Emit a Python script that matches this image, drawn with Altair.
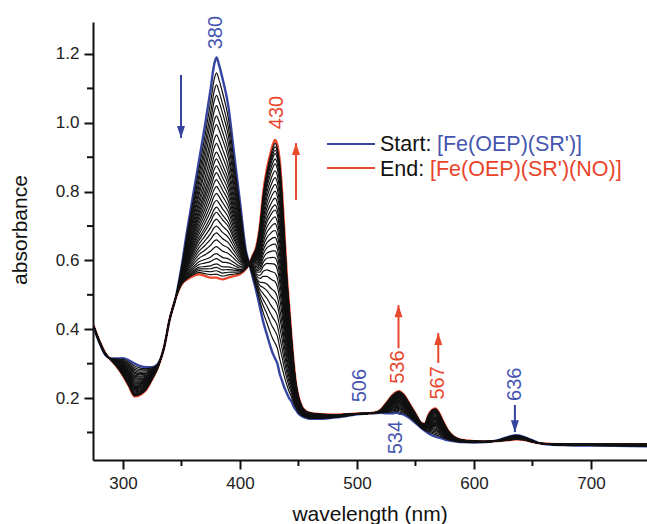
import altair as alt
import pandas as pd

# ---------------- data ----------------
wl = [275, 280, 285, 290, 295, 300, 305, 310, 315, 320,
      325, 330, 335, 340, 345, 350, 355, 360, 365, 370,
      375, 378, 380, 382, 385, 390, 395, 400, 405, 408,
      411, 414, 417, 420, 423, 426, 428, 430, 432, 434,
      436, 438, 440, 442, 444, 446, 448, 450, 453, 456,
      460, 470, 480, 490, 500, 510, 515, 520, 525, 530,
      534, 536, 540, 545, 550, 555, 558, 561, 564, 567,
      570, 574, 578, 582, 586, 590, 600, 610, 620, 630,
      636, 642, 648, 655, 665, 680, 700, 720, 750]

# Start: [Fe(OEP)(SR')]  (blue)
start_abs = [0.405, 0.36, 0.325, 0.315, 0.315, 0.316, 0.31, 0.30, 0.293, 0.29,
             0.29, 0.30, 0.345, 0.43, 0.49, 0.58, 0.69, 0.79, 0.89, 0.99,
             1.10, 1.17, 1.19, 1.17, 1.13, 1.05, 0.91, 0.77, 0.63, 0.59,
             0.55, 0.51, 0.465, 0.42, 0.385, 0.35, 0.33, 0.315, 0.30, 0.27,
             0.25, 0.23, 0.215, 0.20, 0.19, 0.175, 0.165, 0.155, 0.147, 0.143,
             0.14, 0.14, 0.143, 0.147, 0.153, 0.155, 0.156, 0.157, 0.156, 0.156,
             0.157, 0.155, 0.152, 0.142, 0.128, 0.113, 0.105, 0.098, 0.092, 0.088,
             0.085, 0.081, 0.077, 0.075, 0.073, 0.072, 0.071, 0.072, 0.077, 0.088,
             0.092, 0.088, 0.08, 0.07, 0.065, 0.063, 0.062, 0.061, 0.06]

# End: [Fe(OEP)(SR')(NO)]  (red)
end_abs = [0.41, 0.365, 0.33, 0.31, 0.29, 0.265, 0.235, 0.205, 0.21, 0.225,
           0.255, 0.29, 0.345, 0.43, 0.49, 0.53, 0.545, 0.555, 0.56, 0.555,
           0.55, 0.55, 0.55, 0.548, 0.545, 0.55, 0.555, 0.56, 0.575, 0.59,
           0.615, 0.64, 0.70, 0.80, 0.865, 0.91, 0.935, 0.95, 0.935, 0.89,
           0.80, 0.68, 0.56, 0.47, 0.38, 0.30, 0.24, 0.205, 0.175, 0.163,
           0.157, 0.153, 0.152, 0.153, 0.155, 0.156, 0.158, 0.165, 0.185, 0.207,
           0.218, 0.22, 0.21, 0.183, 0.155, 0.128, 0.125, 0.15, 0.165, 0.17,
           0.158, 0.13, 0.105, 0.09, 0.082, 0.078, 0.075, 0.074, 0.075, 0.078,
           0.08, 0.079, 0.074, 0.069, 0.067, 0.066, 0.066, 0.066, 0.066]

# absorbance at 380 nm of each intermediate (black) spectrum
mid_380 = [1.145, 1.11, 1.08, 1.05, 1.02, 0.995, 0.965, 0.94, 0.915, 0.895,
           0.875, 0.855, 0.835, 0.815, 0.795, 0.775, 0.755, 0.74, 0.72, 0.70,
           0.68, 0.66, 0.64, 0.62, 0.605, 0.59, 0.58, 0.57, 0.56]

x_major = [300, 400, 500, 600, 700]
x_minor = [350, 450, 550, 650]
y_major = [0.2, 0.4, 0.6, 0.8, 1.0, 1.2]
y_minor = [0.1, 0.3, 0.5, 0.7, 0.9, 1.1]

ann_text = ["380", "430", "506", "536", "567", "636", "534"]
ann_x = [379.5, 432.0, 502.5, 535.5, 569.0, 635.0, 533.3]
ann_y = [1.262, 1.03, 0.236, 0.29, 0.244, 0.24, 0.085]
ann_col = ["blue", "red", "blue", "red", "red", "blue", "blue"]

arrow_x = [349.6, 447.9, 535.5, 569.5, 635.0]
arrow_from = [1.139, 0.776, 0.345, 0.302, 0.18]
arrow_to = [0.956, 0.941, 0.47, 0.389, 0.101]
arrow_dir = ["down", "up", "up", "up", "down"]
arrow_col = ["blue", "red", "red", "red", "blue"]

BLUE_LINE = "#34449f"
RED_LINE = "#e8482c"
BLUE_TXT = "#4555b0"
RED_TXT = "#e8452b"
FONT = "Liberation Sans"

# ---------------- tables ----------------
i380 = wl.index(380)
ends_rows = []
for w, s in zip(wl, start_abs):
    ends_rows.append({"wl": w, "A": s, "series": "start"})
for w, e in zip(wl, end_abs):
    ends_rows.append({"wl": w, "A": e, "series": "end"})
ends_df = pd.DataFrame(ends_rows)

mid_rows = []
for k, v in enumerate(mid_380):
    f = (start_abs[i380] - v) / (start_abs[i380] - end_abs[i380])
    for w, s, e in zip(wl, start_abs, end_abs):
        mid_rows.append({"curve": k, "wl": w, "A": (1 - f) * s + f * e})
mid_df = pd.DataFrame(mid_rows)

cmap = {"blue": BLUE_TXT, "red": RED_TXT}
ann_df = pd.DataFrame({"t": ann_text, "x": ann_x, "y": ann_y,
                       "c": [cmap[c] for c in ann_col]})
amap = {"blue": BLUE_LINE, "red": RED_LINE}
arr_df = pd.DataFrame({"x": arrow_x, "y1": arrow_from, "y2": arrow_to,
                       "dir": arrow_dir, "c": [amap[c] for c in arrow_col]})

# ---------------- scales / axes (same axis spec in every layer) ----------------
xs = alt.Scale(domain=[274.4, 747.9], nice=False, zero=False)
ys = alt.Scale(domain=[0.02, 1.293], nice=False, zero=False)

xaxis = alt.Axis(values=x_major, format="d", title=None, grid=False,
                 tickSize=9, labelPadding=6)
yaxis = alt.Axis(values=y_major, format=".1f", title=None, grid=False,
                 tickSize=9, labelPadding=5)


def X(field):
    return alt.X(field, scale=xs, axis=xaxis)


def Y(field):
    return alt.Y(field, scale=ys, axis=yaxis)


ends = alt.Chart(ends_df).mark_line(
    strokeWidth=2.4, clip=True, interpolate="monotone"
).encode(
    x=X("wl:Q"), y=Y("A:Q"),
    color=alt.Color("series:N", scale=alt.Scale(domain=["start", "end"],
                                                range=[BLUE_LINE, RED_LINE]),
                    legend=None),
)

mids = alt.Chart(mid_df).mark_line(
    strokeWidth=1.2, color="#111111", clip=True, interpolate="monotone"
).encode(x=X("wl:Q"), y=Y("A:Q"), detail="curve:N")

# minor ticks drawn just outside the plot area
xminor = alt.Chart(pd.DataFrame({"v": x_minor})).mark_rule(
    color="#111", strokeWidth=2, clip=False
).encode(x=X("v:Q"), y=alt.value(438), y2=alt.value(444))
yminor = alt.Chart(pd.DataFrame({"v": y_minor})).mark_rule(
    color="#111", strokeWidth=2, clip=False
).encode(y=Y("v:Q"), x=alt.value(0), x2=alt.value(-6))

ann = alt.Chart(ann_df).mark_text(
    angle=270, align="center", baseline="middle", font=FONT, fontSize=20
).encode(x=X("x:Q"), y=Y("y:Q"), text="t:N", color=alt.Color("c:N", scale=None))

arr_lines = alt.Chart(arr_df).mark_rule(strokeWidth=2).encode(
    x=X("x:Q"), y=Y("y1:Q"), y2="y2:Q", color=alt.Color("c:N", scale=None))
arr_heads = alt.Chart(arr_df).mark_point(filled=True, opacity=1, size=100, strokeWidth=0).encode(
    x=X("x:Q"), y=Y("y2:Q"),
    shape=alt.Shape("dir:N", scale=alt.Scale(
        domain=["up", "down"],
        range=["M0,0L-0.8,2.4L0.8,2.4Z", "M0,0L-0.8,-2.4L0.8,-2.4Z"]), legend=None),
    color=alt.Color("c:N", scale=None),
)


def px_text(txt, x, y, col, size, align="left", angle=0, baseline="alphabetic"):
    kw = dict(align=align, baseline=baseline, font=FONT, fontSize=size, color=col)
    if angle:
        kw["angle"] = angle
    return alt.Chart(pd.DataFrame({"t": [txt]})).mark_text(**kw).encode(
        x=alt.value(x), y=alt.value(y), text="t:N")


# axis titles (pixel positions relative to the plot area)
titles = (px_text("wavelength (nm)", 277, 499, "#111", 21, align="center")
          + px_text("absorbance", -72, 208, "#111", 21, align="center",
                    angle=270, baseline="middle"))

# legend (drawn by hand, pixel positions inside the plot area)
leg_blue = alt.Chart(pd.DataFrame({"k": ["s"]})).mark_rule(color=BLUE_LINE, strokeWidth=2).encode(
    x=alt.value(234), x2=alt.value(282), y=alt.value(122))
leg_red = alt.Chart(pd.DataFrame({"k": ["e"]})).mark_rule(color=RED_LINE, strokeWidth=2).encode(
    x=alt.value(234), x2=alt.value(282), y=alt.value(146))

legend = (leg_blue + leg_red
          + px_text("Start:", 287, 129, "#111", 21.5)
          + px_text("[Fe(OEP)(SR')]", 344, 129, BLUE_TXT, 21.5)
          + px_text("End:", 287, 154, "#111", 21.5)
          + px_text("[Fe(OEP)(SR')(NO)]", 337, 154, RED_TXT, 21.5))

chart = alt.layer(ends, mids, xminor, yminor, arr_lines, arr_heads, ann,
                  titles, legend).properties(
    width=554, height=438,
    padding={"left": 93, "top": 22, "right": 0, "bottom": 64},
    autosize=alt.AutoSizeParams(type="none"),
    background="white",
).configure_view(stroke=None).configure_axis(
    domainColor="#111", domainWidth=2, tickColor="#111", tickWidth=2,
    labelFont=FONT, labelFontSize=17, labelColor="#222", labelFlush=False,
)

chart.save("out.html", embed_options={"renderer": "svg", "actions": False})
